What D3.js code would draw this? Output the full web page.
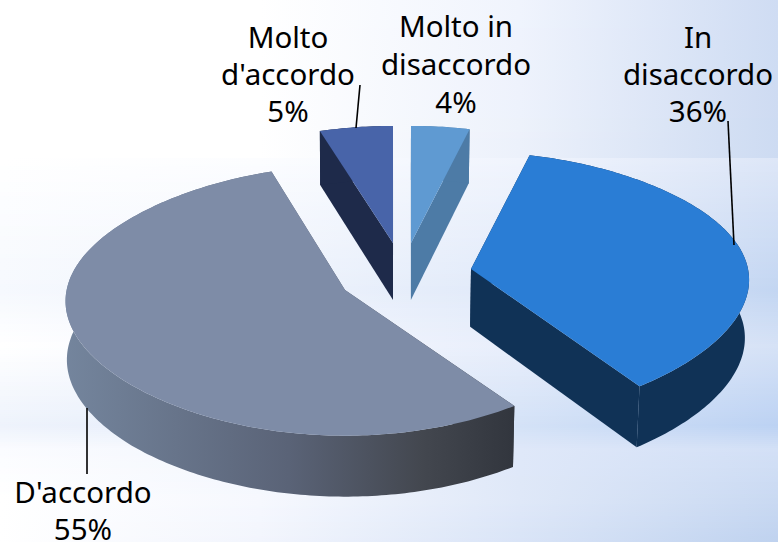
<!DOCTYPE html>
<html><head><meta charset="utf-8">
<script src="https://cdn.jsdelivr.net/npm/d3@7/dist/d3.min.js"></script>
<style>html,body{margin:0;padding:0;background:#fff}svg{display:block}</style>
</head><body><svg id="c" width="778" height="542"></svg>
<script>
const categories=["Molto in disaccordo","In disaccordo","D'accordo","Molto d'accordo"];
const values=[4,36,55,5];
const labelLines=[["Molto in","disaccordo","4%"],["In","disaccordo","36%"],["D'accordo","55%"],["Molto","d'accordo","5%"]];
const topColors=["#5f9ad2","#2a7dd5","#7e8ca7","#4864a9"];
const wallColors=["#4d7ba6","#103256","url(#greyWall)","#1e2a4a"];
const apexes=[[411,243],[471,269],[345,290],[393,243]];
const xScales=[1,1,1.005,1];
const ryValues=[131,131,134,131];
const perspY=[.119,.119,.08,.119];
const labelPos=[[456,37],[698,47.5],[83,503],[288,48]];
const labelStep=[38,37,37,37];
const leaders=[[[360,85],[356,128]],[[728,121],[734,245]],[[87,408],[87,474]]];
const bgStopsX=[0,260,520,778];
const bgRows=[
 [0,"#ffffff","#ffffff","#f0f4fd","#cfdcf3"],
 [157,"#ffffff","#ffffff","#ecf1fb","#cddbf2"],
 [158,"#ffffff","#fcfdff","#f0f4fd","#dde6f7"],
 [290,"#f6f9fe","#eef3fc","#e0e9f9","#c3d6f2"],
 [345,"#ffffff","#f6f8fe","#e8eefb","#d6e2f6"],
 [425,"#eef3fc","#e4ecfa","#d4e2f7","#bcd2f3"],
 [448,"#fbfcff","#f2f6fd","#dfe8f9","#d3e0f6"],
 [500,"#ffffff","#f6f8fe","#dfe8f8","#c9d9f2"],
 [542,"#ffffff","#f2f5fd","#d9e4f7","#bfd2ef"]];
const W=778,H=542,rx=277;
const svg=d3.select("#c"),defs=svg.append("defs");
const rowH=2,bg=svg.append("g");
const keyY=bgRows.map(r=>r[0]);
function rowColors(y){
  const i=Math.min(d3.bisectRight(keyY,y),keyY.length-1),a=bgRows[i-1],b=bgRows[i];
  const t=Math.min(1,(y-a[0])/(b[0]-a[0]));
  return bgStopsX.map((_,k)=>d3.interpolateRgb(a[k+1],b[k+1])(t));
}
d3.range(0,H,rowH).forEach((y,i)=>{
  const g=defs.append("linearGradient").attr("id","bg"+i).attr("gradientUnits","userSpaceOnUse")
    .attr("x1",0).attr("x2",W).attr("y1",0).attr("y2",0);
  rowColors(y).forEach((c,k)=>g.append("stop").attr("offset",bgStopsX[k]/W).attr("stop-color",c));
  bg.append("rect").attr("x",0).attr("y",y).attr("width",W).attr("height",rowH).attr("fill",`url(#bg${i})`);
});
const gw=defs.append("linearGradient").attr("id","greyWall").attr("gradientUnits","userSpaceOnUse")
  .attr("x1",65).attr("x2",512).attr("y1",0).attr("y2",0);
[[0,"#74859d"],[.5,"#5a6377"],[.8,"#43474f"],[1,"#32363e"]].forEach(s=>gw.append("stop").attr("offset",s[0]).attr("stop-color",s[1]));

const pie=d3.pie().sort(null).startAngle(0).endAngle(2*Math.PI)(values);
const proj=(i,a)=>{
  const u=Math.sin(a),v=Math.cos(a);
  const sx=1-.0937*v-.0623*v*v, sy=1/(1+perspY[i]*v);
  return [apexes[i][0]+rx*xScales[i]*u*sx, apexes[i][1]-ryValues[i]*v*sy];
};
const lower=p=>{const t=Math.max(0,Math.min(1,(p[1]-130)/255)),k=p[0]<400?.996:.988;return [400+(p[0]-400)*k,p[1]+54+7*t];};
const line=d3.line();
[3,0,1,2].forEach(i=>{
  const d=pie[i],ap=apexes[i];
  const n=Math.max(8,Math.round((d.endAngle-d.startAngle)*60));
  const arc=d3.range(n+1).map(k=>proj(i,d.startAngle+(d.endAngle-d.startAngle)*k/n));
  const g=svg.append("g").attr("class","slice").attr("data-name",categories[i]);
  const wall=s=>g.append("path").attr("d",line(s)+"Z").attr("fill",wallColors[i]);
  wall([ap,arc[0],lower(arc[0]),lower(ap)]);
  wall([ap,arc[n],lower(arc[n]),lower(ap)]);
  wall([...arc,...arc.slice().reverse().map(lower)]);
  g.append("path").attr("d",line([ap,...arc])+"Z").attr("fill",topColors[i]);
});
leaders.forEach(l=>svg.append("path").attr("d",line(l)).attr("stroke","#000").attr("stroke-width",1.6).attr("fill","none"));
labelLines.forEach((lines,i)=>{
  const t=svg.append("text").attr("text-anchor","middle").attr("font-family","'Noto Sans',sans-serif").attr("font-size",29.5).attr("fill","#000");
  lines.forEach((s,k)=>t.append("tspan").attr("x",labelPos[i][0]).attr("y",labelPos[i][1]+k*labelStep[i]).text(s));
});
</script></body></html>
